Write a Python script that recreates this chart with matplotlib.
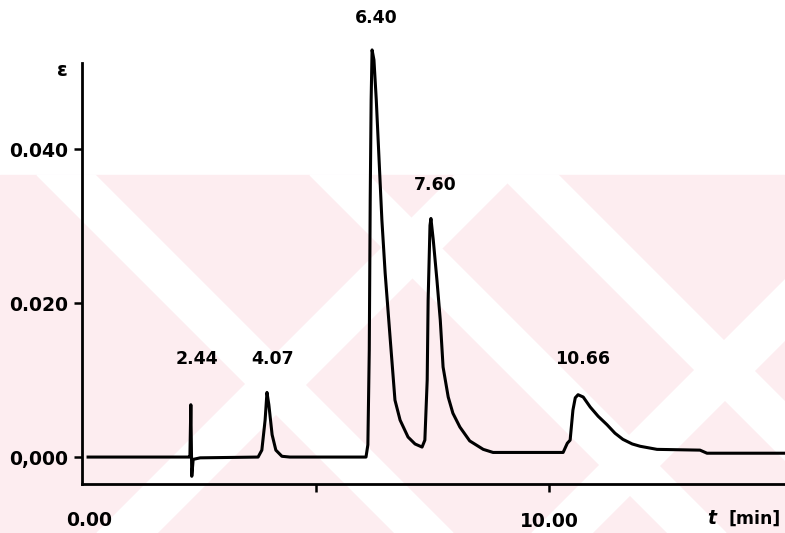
import matplotlib
matplotlib.use("Agg")
import matplotlib.pyplot as plt
from matplotlib.patches import Polygon

# chromatogram trace (time in min, extinction)
time_min = [0.13, 2.29, 2.31, 2.33, 2.35, 2.38, 2.53, 3.77, 3.85, 3.92, 3.96, 4.00,
            4.07, 4.15, 4.28, 4.45, 6.08, 6.12, 6.15, 6.17, 6.19, 6.21, 6.25, 6.30,
            6.34, 6.42, 6.49, 6.60, 6.70, 6.81, 6.98, 7.13, 7.28, 7.34, 7.39,
            7.41, 7.45, 7.47, 7.52, 7.60, 7.67, 7.73, 7.84, 7.94, 8.09, 8.30,
            8.59, 8.80, 10.30, 10.39, 10.45, 10.51, 10.56, 10.62, 10.73, 10.88,
            11.05, 11.24, 11.41, 11.58, 11.78, 11.95, 12.31, 13.23, 13.38, 15.05]
extinction = [0.0, 0.0, 0.0, 0.0068, -0.0025, -0.0003, -0.0001, 0.0, 0.0009, 0.0048,
              0.0084, 0.0068, 0.0029, 0.0009, 0.0001, 0.0, 0.0, 0.0016, 0.0139, 0.0334,
              0.0464, 0.0529, 0.0516, 0.0464, 0.0412, 0.0308, 0.0239, 0.0152, 0.0074,
              0.0048, 0.0026, 0.0017, 0.0013, 0.0022, 0.0100, 0.0204, 0.0301,
              0.0310, 0.0282, 0.0229, 0.0178, 0.0117, 0.0078, 0.0057, 0.0039,
              0.0021, 0.0010, 0.0006, 0.0006, 0.0018, 0.0022, 0.0061, 0.0077,
              0.0081, 0.0078, 0.0065, 0.0053, 0.0042, 0.0031, 0.0023, 0.0017, 0.0014,
              0.0010, 0.0009, 0.0005, 0.0005]

# peak labels (retention times) and where they sit
peak_labels = ["2.44", "4.07", "6.40", "7.60", "10.66"]
peak_label_t = [2.47, 4.07, 6.30, 7.56, 10.71]
peak_label_y = [0.0128, 0.0128, 0.0571, 0.0354, 0.0128]

yticks = [0.0, 0.020, 0.040]
ytick_labels = ["0,000", "0.020", "0.040"]
xticks = [5, 10]
xtick_labels = ["", "10.00"]

W, H = 785, 533
fig = plt.figure(figsize=(W / 100, H / 100), dpi=100)


def px(pts):
    # pixel coords (origin top-left) -> figure fraction
    return [(x / W, 1 - y / H) for x, y in pts]


# faint pink watermark behind the chart (rough copy of the scan's logo)
pink = "#fdedf0"
fig.patches.append(Polygon(px([(0, 175), (W, 175), (W, H), (0, H)]),
                           closed=True, transform=fig.transFigure, color=pink, zorder=-3))
white_bands = []
for c in [37, 310, 500]:            # "\" gaps
    white_bands.append([(c, 175), (c + 58, 175), (c + 58 + 358, H), (c + 358, H)])
for c in [455, 890]:                # "/" gaps
    white_bands.append([(c, 175), (c + 60, 175), (c + 60 - 358, H), (c - 358, H)])
for b in white_bands:
    fig.patches.append(Polygon(px(b), closed=True, transform=fig.transFigure,
                               color="white", zorder=-2))

ax = fig.add_axes([82 / W, 49 / H, (W - 82) / W, 421 / H])
ax.set_zorder(2)
ax.patch.set_visible(False)

ax.plot(time_min, extinction, color="black", lw=2.2, clip_on=False, zorder=3)

for lab, t, y in zip(peak_labels, peak_label_t, peak_label_y):
    ax.text(t, y, lab, ha="center", va="center", fontsize=12.5, fontweight="bold",
            clip_on=False)

ax.set_xlim(0, 15.05)
ax.set_ylim(-0.0035, 0.0512)
ax.spines["top"].set_visible(False)
ax.spines["right"].set_visible(False)
for s in ["left", "bottom"]:
    ax.spines[s].set_linewidth(2.0)

ax.set_yticks(yticks, ytick_labels)
ax.set_xticks(xticks, xtick_labels)
ax.tick_params(axis="both", width=1.8, length=6, labelsize=13.5)
ax.tick_params(axis="x", pad=14)
ax.tick_params(axis="y", pad=4)
for lab in ax.get_xticklabels() + ax.get_yticklabels():
    lab.set_fontweight("bold")

# origin label sits a little right of the spine in the scan
fig.text(89 / W, 1 - 521 / H, "0.00", ha="center", va="center", fontsize=13.5,
         fontweight="bold")
fig.text(62 / W, 1 - 70 / H, "ε", ha="center", va="center", fontsize=14, fontweight="bold")
fig.text(712 / W, 1 - 519 / H, "t", ha="center", va="center", fontsize=13.5,
         fontweight="bold", fontstyle="italic")
fig.text(781 / W, 1 - 519 / H, "[min]", ha="right", va="center", fontsize=12.5,
         fontweight="bold")

fig.savefig("out.png", dpi=100)
